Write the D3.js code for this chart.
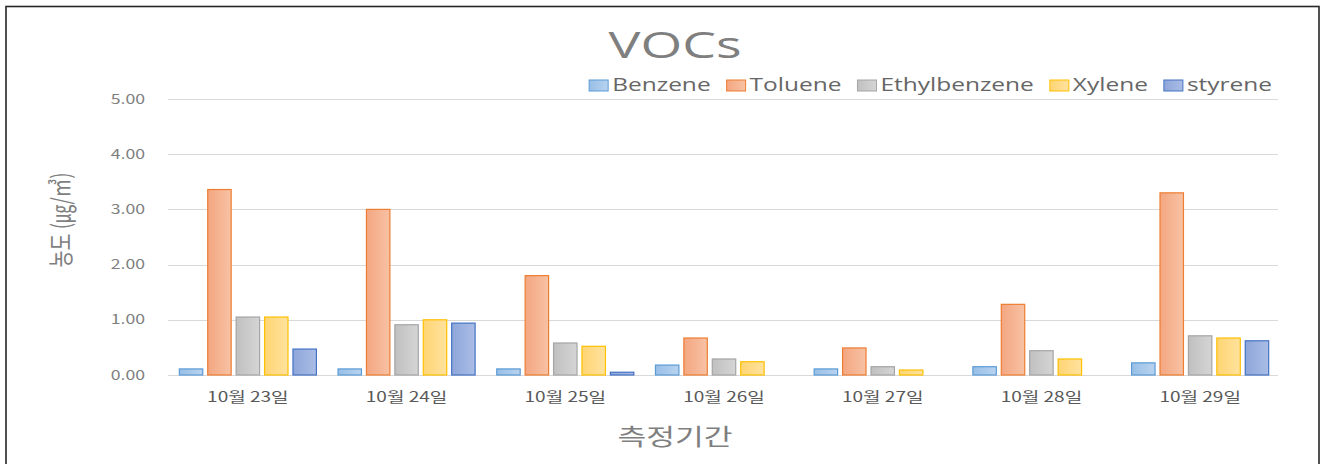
<!DOCTYPE html>
<html>
<head>
<meta charset="utf-8">
<script src="https://cdn.jsdelivr.net/npm/d3@7"></script>
<style>
  html, body { margin: 0; padding: 0; background: #fff; }
  svg { display: block; }
</style>
</head>
<body>
<svg id="chart" width="1327" height="464"></svg>
<script>
// ---------------- data ----------------
const categories = ["10월 23일", "10월 24일", "10월 25일", "10월 26일", "10월 27일", "10월 28일", "10월 29일"];
const seriesNames = ["Benzene", "Toluene", "Ethylbenzene", "Xylene", "styrene"];
const benzene      = [0.11, 0.11, 0.11, 0.18, 0.11, 0.15, 0.22];
const toluene      = [3.36, 3.00, 1.80, 0.67, 0.49, 1.28, 3.30];
const ethylbenzene = [1.05, 0.91, 0.58, 0.29, 0.15, 0.44, 0.71];
const xylene       = [1.05, 1.00, 0.52, 0.24, 0.09, 0.29, 0.67];
const styrene      = [0.47, 0.94, 0.05, 0.00, 0.00, 0.00, 0.62];
const yTicks = [0, 1, 2, 3, 4, 5];
const titleText = "VOCs";
const xTitle = "측정기간";
const yTitle = "농도 (㎍/㎥)";

const seriesValues = [benzene, toluene, ethylbenzene, xylene, styrene];

// ---------------- style ----------------
const colors = [
  { stroke: "#5b9bd5", c0: "#98bfe7", c1: "#b9d3ef" },
  { stroke: "#ed7d31", c0: "#f4a681", c1: "#f7c2a4" },
  { stroke: "#a5a5a5", c0: "#c0c0c0", c1: "#d5d5d5" },
  { stroke: "#ffc000", c0: "#ffd573", c1: "#ffe29e" },
  { stroke: "#4472c4", c0: "#8da6d9", c1: "#abbde6" }
];
const SX = 1.36; // horizontal text stretch of the reference picture
const svg = d3.select("#chart");

svg.append("rect").attr("x", 0).attr("y", 0).attr("width", 1327).attr("height", 464).attr("fill", "#fff");
svg.append("rect").attr("x", 6).attr("y", 6.5).attr("width", 1313).attr("height", 480)
  .attr("fill", "none").attr("stroke", "#262626").attr("stroke-width", 1.6);

const defs = svg.append("defs");
colors.forEach((c, i) => {
  const g = defs.append("linearGradient").attr("id", "grad" + i)
    .attr("x1", "0%").attr("y1", "0%").attr("x2", "100%").attr("y2", "0%");
  g.append("stop").attr("offset", "0%").attr("stop-color", c.c0);
  g.append("stop").attr("offset", "100%").attr("stop-color", c.c1);
});

// ---------------- scales ----------------
const y = d3.scaleLinear().domain([0, 5]).range([375, 99]);
const x0 = d3.scaleBand().domain(categories).range([168.5, 1279.5]).paddingInner(0.13).paddingOuter(0.065);
const x1 = d3.scaleBand().domain(seriesNames).range([0, x0.bandwidth()]).paddingInner(0.14);

// gridlines
svg.append("g").selectAll("line").data(yTicks).join("line")
  .attr("x1", 168).attr("x2", 1278)
  .attr("y1", d => Math.round(y(d)) + 0.5).attr("y2", d => Math.round(y(d)) + 0.5)
  .attr("stroke", "#d9d9d9").attr("stroke-width", 1);

// y tick labels
svg.append("g").selectAll("text").data(yTicks).join("text")
  .attr("transform", d => `translate(145,${y(d) + 4.5}) scale(${SX},1)`)
  .attr("text-anchor", "end")
  .attr("font-family", "'Noto Sans CJK KR', 'Noto Sans', sans-serif")
  .attr("font-size", 13).attr("fill", "#7f7f7f")
  .text(d => d3.format(".2f")(d));

// bars
const groups = svg.append("g").selectAll("g").data(categories).join("g")
  .attr("transform", d => `translate(${x0(d)},0)`);
groups.selectAll("rect")
  .data((cat, ci) => seriesNames.map((s, si) => ({ s, si, v: seriesValues[si][ci] })))
  .join("rect")
  .filter(d => d.v > 0)
  .attr("x", d => x1(d.s) + 0.5)
  .attr("width", x1.bandwidth() - 1)
  .attr("y", d => y(d.v))
  .attr("height", d => y(0) - y(d.v))
  .attr("fill", d => `url(#grad${d.si})`)
  .attr("stroke", d => colors[d.si].stroke)
  .attr("stroke-width", 1.2);

// category labels
svg.append("g").selectAll("text").data(categories).join("text")
  .attr("transform", d => `translate(${x0(d) + x0.bandwidth() / 2},402) scale(${SX},1)`)
  .attr("text-anchor", "middle")
  .attr("font-family", "'Noto Sans CJK KR', sans-serif")
  .attr("font-size", 14).attr("fill", "#595959")
  .text(d => d);

// title
svg.append("text")
  .attr("transform", `translate(675,58) scale(1.45,1)`)
  .attr("text-anchor", "middle")
  .attr("font-family", "'Open Sans', sans-serif")
  .attr("font-size", 37).attr("fill", "#7f7f7f")
  .text(titleText);

// x title
svg.append("text")
  .attr("transform", `translate(675,445) scale(${SX},1)`)
  .attr("text-anchor", "middle")
  .attr("font-family", "'Noto Sans CJK KR', sans-serif")
  .attr("font-size", 23).attr("fill", "#7f7f7f")
  .text(xTitle);

// y title
svg.append("text")
  .attr("transform", `translate(61,220) scale(${SX},1) rotate(-90)`)
  .attr("text-anchor", "middle")
  .attr("dy", "0.35em")
  .attr("font-family", "'Noto Sans CJK KR', sans-serif")
  .attr("font-size", 18.5).attr("fill", "#7f7f7f")
  .text(yTitle);

// legend
const legend = svg.append("g");
const items = legend.selectAll("g").data(seriesNames).join("g");
items.append("rect").attr("x", 0).attr("y", 80).attr("width", 19).attr("height", 11)
  .attr("fill", (d, i) => `url(#grad${i})`).attr("stroke", (d, i) => colors[i].stroke).attr("stroke-width", 1);
const lt = items.append("text")
  .attr("transform", `translate(23,91) scale(${SX},1)`)
  .attr("font-family", "'Open Sans', sans-serif")
  .attr("font-size", 18).attr("fill", "#666666")
  .text(d => d);
let cx = 0;
const offs = [];
const GAP = 16;
lt.each(function () {
  offs.push(cx);
  cx += 23 + this.getComputedTextLength() * SX + GAP;
});
const total = cx - GAP;
const startX = 1272 - total;
items.attr("transform", (d, i) => `translate(${startX + offs[i]},0)`);
</script>
</body>
</html>
